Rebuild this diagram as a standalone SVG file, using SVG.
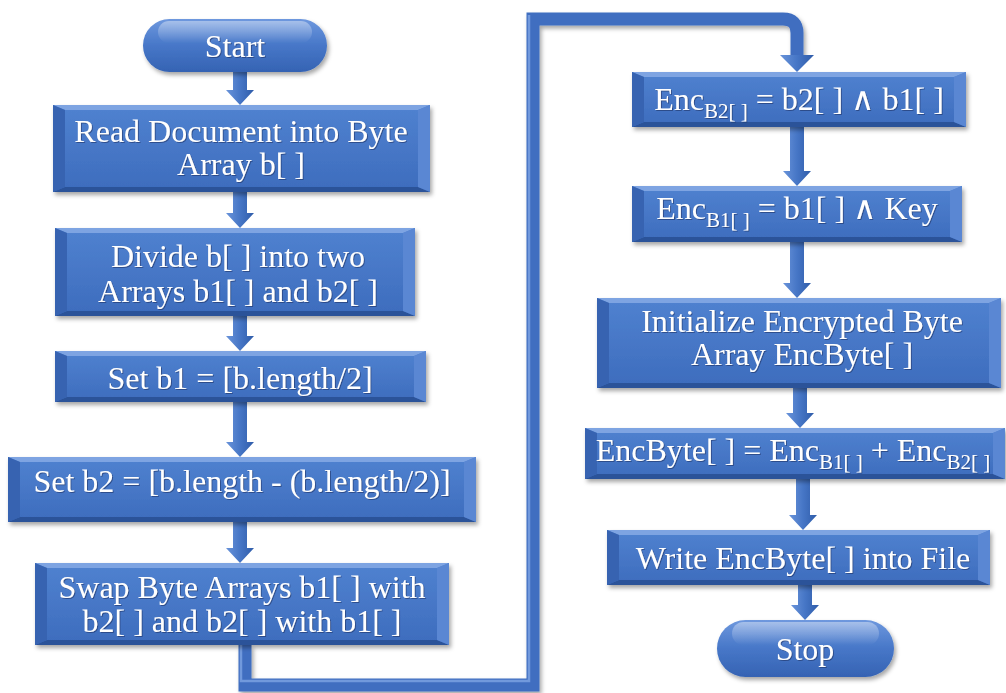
<svg xmlns="http://www.w3.org/2000/svg" width="1006" height="693" viewBox="0 0 1006 693">
<defs>
  <linearGradient id="face" x1="0" y1="0" x2="0" y2="1">
    <stop offset="0" stop-color="#5082d0"/>
    <stop offset="1" stop-color="#3d6cbd"/>
  </linearGradient>
  <linearGradient id="pill" x1="0" y1="0" x2="0" y2="1">
    <stop offset="0" stop-color="#6e98de"/>
    <stop offset="0.5" stop-color="#4777c8"/>
    <stop offset="1" stop-color="#3563b3"/>
  </linearGradient>
  <linearGradient id="gloss" x1="0" y1="0" x2="0" y2="1">
    <stop offset="0" stop-color="#ffffff" stop-opacity="0.4"/>
    <stop offset="1" stop-color="#ffffff" stop-opacity="0"/>
  </linearGradient>
  <linearGradient id="arr" x1="0" y1="0" x2="1" y2="0">
    <stop offset="0" stop-color="#6a94da"/>
    <stop offset="0.5" stop-color="#4676c6"/>
    <stop offset="1" stop-color="#2f5ca9"/>
  </linearGradient>
  <filter id="sh" x="-10%" y="-20%" width="120%" height="150%">
    <feDropShadow dx="2" dy="3" stdDeviation="2" flood-color="#000" flood-opacity="0.35"/>
  </filter>
  <filter id="tsh" x="-5%" y="-20%" width="110%" height="150%">
    <feDropShadow dx="1" dy="1" stdDeviation="0.7" flood-color="#1a3566" flood-opacity="0.6"/>
  </filter>
</defs>
<style>
  .face { fill: url(#face); }
  .bt { fill: #7ea4e2; }
  .bb { fill: #2b5399; }
  .bl { fill: #3763b1; }
  .br { fill: #5a87d3; }
  .pill { fill: url(#pill); }
  .gloss { fill: url(#gloss); }
  .arrow { fill: url(#arr); }
  .t { font-family: "Liberation Serif", "DejaVu Serif", serif; font-size: 32px; fill: #ffffff; text-anchor: middle; filter: url(#tsh); }
  .sub { font-size: 21px; }
  .conn { fill: none; stroke: #3f6ec0; stroke-width: 13; stroke-linejoin: miter; filter: url(#sh); }
  .conn-h { fill: none; stroke: #7199dc; stroke-width: 2.5; stroke-linejoin: miter; }
</style>

<g id="connectors">
  <path class="arrow" d="M233,72 L247,72 L247,90 L254,90 L240,105 L226,90 L233,90 Z"/>
  <path class="arrow" d="M233,192 L247,192 L247,213 L254,213 L240,228 L226,213 L233,213 Z"/>
  <path class="arrow" d="M233,316 L247,316 L247,336 L254,336 L240,351 L226,336 L233,336 Z"/>
  <path class="arrow" d="M233,402 L247,402 L247,442 L254,442 L240,457 L226,442 L233,442 Z"/>
  <path class="arrow" d="M233,522 L247,522 L247,548 L254,548 L240,563 L226,548 L233,548 Z"/>
  <path class="conn" d="M245,645 L245,685 L533,685 L533,19 L783,19 Q797,19 797,33 L797,57"/>
  <path class="conn-h" d="M241,645 L241,681 L529,681 L529,15"/>
  <polygon class="arrow" points="780,55 814,55 797,72"/>
  <path class="arrow" d="M790,127 L804,127 L804,171 L811,171 L797,186 L783,171 L790,171 Z"/>
  <path class="arrow" d="M790,242 L804,242 L804,283 L811,283 L797,298 L783,283 L790,283 Z"/>
  <path class="arrow" d="M793,388 L807,388 L807,413 L814,413 L800,428 L786,413 L793,413 Z"/>
  <path class="arrow" d="M796,479 L810,479 L810,515 L817,515 L803,530 L789,515 L796,515 Z"/>
  <path class="arrow" d="M798,585 L812,585 L812,605 L819,605 L805,620 L791,605 L798,605 Z"/>
</g>

<g id="start">
  <rect class="pill" x="143" y="19" width="184" height="53" rx="26.5" filter="url(#sh)"/>
  <rect class="gloss" x="158" y="21" width="154" height="22" rx="11"/>
  <text class="t" x="235" y="57">Start</text>
</g>

<g id="read">
  <rect class="face" x="53" y="105" width="377" height="87" filter="url(#sh)"/>
  <polygon class="bt" points="53,105 430,105 418,110 65,110"/>
  <polygon class="bb" points="53,192 430,192 418,187 65,187"/>
  <polygon class="bl" points="53,105 65,110 65,187 53,192"/>
  <polygon class="br" points="430,105 418,110 418,187 430,192"/>
  <text class="t" x="241" y="142">Read Document into Byte</text>
  <text class="t" x="241" y="175">Array b[ ]</text>
</g>

<g id="divide">
  <rect class="face" x="55" y="228" width="360" height="88" filter="url(#sh)"/>
  <polygon class="bt" points="55,228 415,228 403,233 67,233"/>
  <polygon class="bb" points="55,316 415,316 403,311 67,311"/>
  <polygon class="bl" points="55,228 67,233 67,311 55,316"/>
  <polygon class="br" points="415,228 403,233 403,311 415,316"/>
  <text class="t" x="238" y="267">Divide b[ ] into two</text>
  <text class="t" x="238" y="302">Arrays b1[ ] and b2[ ]</text>
</g>

<g id="setb1">
  <rect class="face" x="55" y="351" width="371" height="51" filter="url(#sh)"/>
  <polygon class="bt" points="55,351 426,351 414,356 67,356"/>
  <polygon class="bb" points="55,402 426,402 414,397 67,397"/>
  <polygon class="bl" points="55,351 67,356 67,397 55,402"/>
  <polygon class="br" points="426,351 414,356 414,397 426,402"/>
  <text class="t" x="240" y="389">Set b1 = [b.length/2]</text>
</g>

<g id="setb2">
  <rect class="face" x="8" y="457" width="468" height="65" filter="url(#sh)"/>
  <polygon class="bt" points="8,457 476,457 464,462 20,462"/>
  <polygon class="bb" points="8,522 476,522 464,517 20,517"/>
  <polygon class="bl" points="8,457 20,462 20,517 8,522"/>
  <polygon class="br" points="476,457 464,462 464,517 476,522"/>
  <text class="t" x="242" y="492">Set b2 = [b.length - (b.length/2)]</text>
</g>

<g id="swap">
  <rect class="face" x="35" y="563" width="414" height="82" filter="url(#sh)"/>
  <polygon class="bt" points="35,563 449,563 437,568 47,568"/>
  <polygon class="bb" points="35,645 449,645 437,640 47,640"/>
  <polygon class="bl" points="35,563 47,568 47,640 35,645"/>
  <polygon class="br" points="449,563 437,568 437,640 449,645"/>
  <text class="t" x="242" y="598">Swap Byte Arrays b1[ ] with</text>
  <text class="t" x="242" y="632">b2[ ] and b2[ ] with b1[ ]</text>
</g>

<g id="encb2">
  <rect class="face" x="632" y="72" width="334" height="55" filter="url(#sh)"/>
  <polygon class="bt" points="632,72 966,72 954,77 644,77"/>
  <polygon class="bb" points="632,127 966,127 954,122 644,122"/>
  <polygon class="bl" points="632,72 644,77 644,122 632,127"/>
  <polygon class="br" points="966,72 954,77 954,122 966,127"/>
  <text class="t" x="799" y="110">Enc<tspan class="sub" dy="8">B2[ ]</tspan><tspan dy="-8"> = b2[ ] ∧ b1[ ]</tspan></text>
</g>

<g id="encb1">
  <rect class="face" x="632" y="186" width="330" height="56" filter="url(#sh)"/>
  <polygon class="bt" points="632,186 962,186 950,191 644,191"/>
  <polygon class="bb" points="632,242 962,242 950,237 644,237"/>
  <polygon class="bl" points="632,186 644,191 644,237 632,242"/>
  <polygon class="br" points="962,186 950,191 950,237 962,242"/>
  <text class="t" x="797" y="219">Enc<tspan class="sub" dy="8">B1[ ]</tspan><tspan dy="-8"> = b1[ ] ∧ Key</tspan></text>
</g>

<g id="init">
  <rect class="face" x="597" y="298" width="404" height="90" filter="url(#sh)"/>
  <polygon class="bt" points="597,298 1001,298 989,303 609,303"/>
  <polygon class="bb" points="597,388 1001,388 989,383 609,383"/>
  <polygon class="bl" points="597,298 609,303 609,383 597,388"/>
  <polygon class="br" points="1001,298 989,303 989,383 1001,388"/>
  <text class="t" x="802" y="332">Initialize Encrypted Byte</text>
  <text class="t" x="802" y="365">Array EncByte[ ]</text>
</g>

<g id="encbyte">
  <rect class="face" x="585" y="428" width="420" height="51" filter="url(#sh)"/>
  <polygon class="bt" points="585,428 1005,428 993,433 597,433"/>
  <polygon class="bb" points="585,479 1005,479 993,474 597,474"/>
  <polygon class="bl" points="585,428 597,433 597,474 585,479"/>
  <polygon class="br" points="1005,428 993,433 993,474 1005,479"/>
  <text class="t" x="793" y="461">EncByte[ ] = Enc<tspan class="sub" dy="8">B1[ ]</tspan><tspan dy="-8"> + Enc</tspan><tspan class="sub" dy="8">B2[ ]</tspan></text>
</g>

<g id="write">
  <rect class="face" x="607" y="530" width="383" height="55" filter="url(#sh)"/>
  <polygon class="bt" points="607,530 990,530 978,535 619,535"/>
  <polygon class="bb" points="607,585 990,585 978,580 619,580"/>
  <polygon class="bl" points="607,530 619,535 619,580 607,585"/>
  <polygon class="br" points="990,530 978,535 978,580 990,585"/>
  <text class="t" x="803" y="569">Write EncByte[ ] into File</text>
</g>

<g id="stop">
  <rect class="pill" x="717" y="620" width="177" height="57" rx="28.5" filter="url(#sh)"/>
  <rect class="gloss" x="732" y="622" width="147" height="23" rx="11.5"/>
  <text class="t" x="805" y="660">Stop</text>
</g>
</svg>
